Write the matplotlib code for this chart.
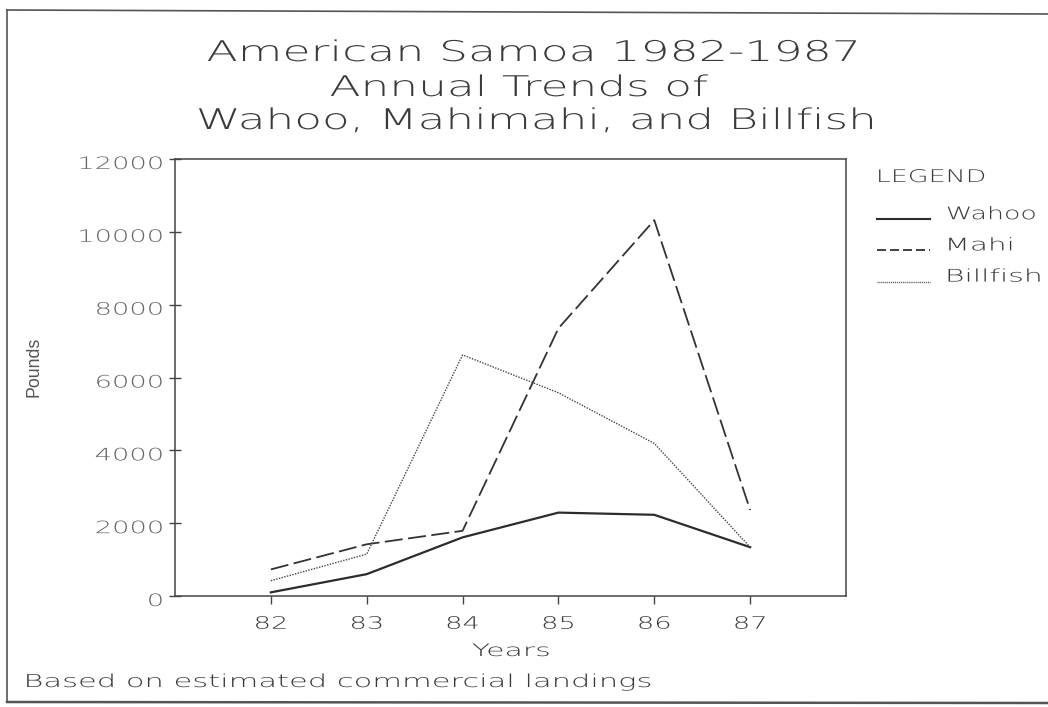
import matplotlib
matplotlib.use("Agg")
import numpy as np
import matplotlib.pyplot as plt
from matplotlib.lines import Line2D
from matplotlib.patheffects import AbstractPathEffect
from matplotlib.transforms import Affine2D

years = [82, 83, 84, 85, 86, 87]
year_labels = ["82", "83", "84", "85", "86", "87"]
wahoo = [100, 600, 1610, 2290, 2230, 1340]
mahi = [730, 1420, 1790, 7350, 10320, 2360]
billfish = [420, 1150, 6620, 5580, 4190, 1340]
y_ticks = [0, 2000, 4000, 6000, 8000, 10000, 12000]
series_names = ["Wahoo", "Mahi", "Billfish"]

plt.rcParams['font.family'] = ['DejaVu Sans']
TXT = '#3a3a3a'
LINE = '#2c2c2c'
W, H = 1048, 707


class Stretch(AbstractPathEffect):
    """Widen the glyph outlines horizontally (the reference uses a very wide plotter font)."""

    def __init__(self, sx=None, width=None, anchor='left', dy=0.0):
        super().__init__()
        self.sx = sx
        self.width = width
        self.anchor = anchor
        self.dy = dy

    def draw_path(self, renderer, gc, tpath, affine, rgbFace=None):
        ext = tpath.get_extents()
        m = affine.get_matrix()
        s = np.sqrt(abs(m[0, 0] * m[1, 1] - m[0, 1] * m[1, 0]))
        sx = self.sx if self.width is None else self.width / (ext.width * s)
        if self.anchor == 'left':
            a = ext.x0
        elif self.anchor == 'right':
            a = ext.x1
        else:
            a = 0.5 * (ext.x0 + ext.x1)
        t = (Affine2D().translate(-a, 0).scale(sx, 1).translate(a, 0) + affine
             + Affine2D().translate(0, self.dy))
        renderer.draw_path(gc, tpath, t, rgbFace)


def fx(px):
    return px / W


def fy(py):
    return 1 - py / H


fig = plt.figure(figsize=(W / 100, H / 100), dpi=100)
fig.patch.set_facecolor('white')

# outer border of the page
fig.add_artist(Line2D([fx(7), fx(7)], [fy(10), fy(702)], color='#555', lw=1.2))
fig.add_artist(Line2D([fx(7), 1.0], [fy(10), fy(14)], color='#555', lw=1.2))
fig.add_artist(Line2D([fx(7), 1.0], [fy(702), fy(703)], color='#555', lw=1.8))

ax = fig.add_axes([fx(175), fy(596), (846 - 175) / W, (596 - 159) / H])
l1, = ax.plot(years, wahoo, color=LINE, lw=1.6, ls='-')
l2, = ax.plot(years, mahi, color='#333', lw=1.3, ls=(0, (10, 3)))
l3, = ax.plot(years, billfish, color='#444', lw=1.0, ls=(0, (1, 1)))

ax.set_xlim(81, 88)
ax.set_ylim(0, 12000)
ax.set_xticks(years)
ax.set_xticklabels(year_labels)
ax.set_yticks(y_ticks)
ax.set_yticklabels([str(v) for v in y_ticks])
for s in ax.spines.values():
    s.set_color('#444')
    s.set_linewidth(1.1)
ax.tick_params(axis='x', direction='out', length=6, width=1, color='#444',
               labelsize=12.3, labelcolor=TXT, pad=7.5)
ax.tick_params(axis='y', direction='inout', length=9, width=1, color='#444',
               labelsize=12.3, labelcolor='#666', pad=4)
for lab in ax.get_xticklabels():
    lab.set_fontweight('light')
    lab.set_path_effects([Stretch(sx=1.6, anchor='center')])
for lab in ax.get_yticklabels():
    lab.set_fontweight('light')
    lab.set_path_effects([Stretch(sx=1.6, anchor='right', dy=-3)])

ax.set_xlabel('Years', fontsize=12.3, color=TXT, fontweight='light')
ax.xaxis.label.set_verticalalignment('baseline')
ax.xaxis.set_label_coords((511 - 175) / 671, -(656 - 596) / 437)
ax.xaxis.label.set_path_effects([Stretch(width=76, anchor='center')])

fig.text(fx(34), fy(367), 'Pounds', rotation=90, ha='center', va='center',
         fontsize=12.8, color='#555', family=['Liberation Sans', 'DejaVu Sans'])

title_lines = [('American Samoa 1982-1987', 207, 61, 648),
               ('Annual Trends of', 330, 96, 377),
               ('Wahoo, Mahimahi, and Billfish', 197, 129, 673)]
for txt, x0, base, wid in title_lines:
    t = fig.text(fx(x0), fy(base), txt, ha='left', va='baseline', fontsize=20.5,
                 color=TXT, fontweight='light')
    t.set_path_effects([Stretch(width=wid, anchor='left')])

t = fig.text(fx(25), fy(687), 'Based on estimated commercial landings', ha='left',
             va='baseline', fontsize=12.8, color=TXT, fontweight='light')
t.set_path_effects([Stretch(width=623, anchor='left')])

# legend (keys with shorter dash pattern, as in the reference)
h1 = Line2D([], [], color=LINE, lw=1.5, ls='-')
h2 = Line2D([], [], color='#333', lw=1.3, ls=(0, (5, 2.2)))
h3 = Line2D([], [], color='#444', lw=1.0, ls=(0, (0.7, 0.7)))
leg = ax.legend([h1, h2, h3], series_names, loc='upper left',
                bbox_to_anchor=(fx(877), fy(180)), bbox_transform=fig.transFigure,
                frameon=False, title='LEGEND', fontsize=12.5, title_fontsize=12.5,
                handlelength=3.05, handletextpad=0.95, labelspacing=0.76,
                borderpad=0, borderaxespad=0, alignment='left', labelcolor=TXT)
leg.get_title().set_color(TXT)
leg.get_title().set_fontweight('light')
leg.get_title().set_path_effects([Stretch(width=105, anchor='left', dy=12)])
for tx, wid in zip(leg.get_texts(), [87, 62, 91]):
    tx.set_fontweight('light')
    tx.set_path_effects([Stretch(width=wid, anchor='left', dy=6)])

fig.savefig('out.png', dpi=100, facecolor='white')
